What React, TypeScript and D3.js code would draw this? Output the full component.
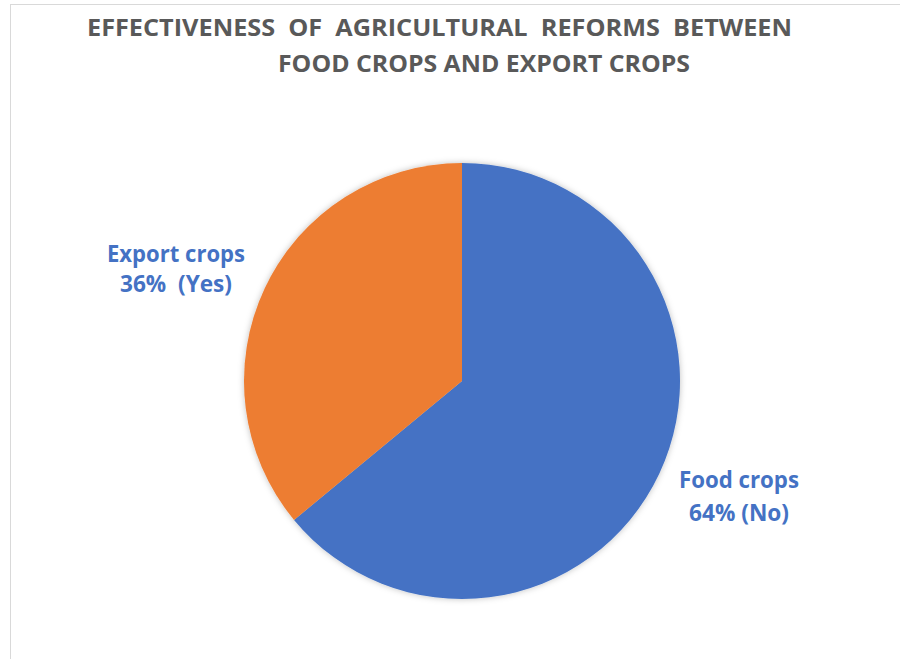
import React from "react";
import * as d3 from "d3";

const categories = ["Food crops", "Export crops"];
const values = [64, 36];
const answers = ["No", "Yes"];
const colors = ["#4472C4", "#ED7D31"];
const titleLines = ["EFFECTIVENESS  OF  AGRICULTURAL  REFORMS  BETWEEN", "FOOD CROPS AND EXPORT CROPS"];

export default function App() {
  const W = 900, H = 659;
  const cx = 462, cy = 381, r = 218;
  const pie = d3.pie<number>().sort(null).value((d) => d)(values);
  const arc = d3.arc<d3.PieArcDatum<number>>().innerRadius(0).outerRadius(r);
  const font = "'Open Sans', Lato, sans-serif";
  const labelPos = [
    { x: 739, y1: 488, y2: 521, w1: 120, w2: 100, l2: `${values[0]}% (${answers[0]})` },
    { x: 176, y1: 262, y2: 292, w1: 138, w2: 112, l2: `${values[1]}%  (${answers[1]})` },
  ];
  return (
    <svg width={W} height={H} style={{ position: "absolute", left: 0, top: 0 }}>
      <defs>
        <filter id="sh" x="-20%" y="-20%" width="140%" height="140%">
          <feDropShadow dx="0" dy="0" stdDeviation="3" floodColor="#000" floodOpacity="0.25" />
        </filter>
      </defs>
      <rect x={0} y={0} width={W} height={H} fill="#fff" />
      <rect x={10.5} y={4.5} width={W + 10} height={H + 10} fill="#fff" stroke="#d9d9d9" strokeWidth={1} />
      <text x={439.5} y={36} textAnchor="middle" fontFamily={font} fontWeight="bold" fontSize={23} fill="#595959" textLength={705} lengthAdjust="spacingAndGlyphs" style={{ whiteSpace: "pre" }}>{titleLines[0]}</text>
      <text x={484} y={72} textAnchor="middle" fontFamily={font} fontWeight="bold" fontSize={23} fill="#595959" textLength={412} lengthAdjust="spacingAndGlyphs">{titleLines[1]}</text>
      <g transform={`translate(${cx},${cy})`} filter="url(#sh)">
        {pie.map((p, i) => (
          <path key={i} d={arc(p) || ""} fill={colors[i]} />
        ))}
      </g>
      {pie.map((p, i) => (
        <g key={"l" + i} fontFamily={font} fontWeight="bold" fontSize={23.5} fill={colors[0]} textAnchor="middle">
          <text x={labelPos[i].x} y={labelPos[i].y1} textLength={labelPos[i].w1} lengthAdjust="spacingAndGlyphs">{categories[i]}</text>
          <text x={labelPos[i].x} y={labelPos[i].y2} textLength={labelPos[i].w2} lengthAdjust="spacingAndGlyphs" style={{ whiteSpace: "pre" }}>{labelPos[i].l2}</text>
        </g>
      ))}
    </svg>
  );
}
